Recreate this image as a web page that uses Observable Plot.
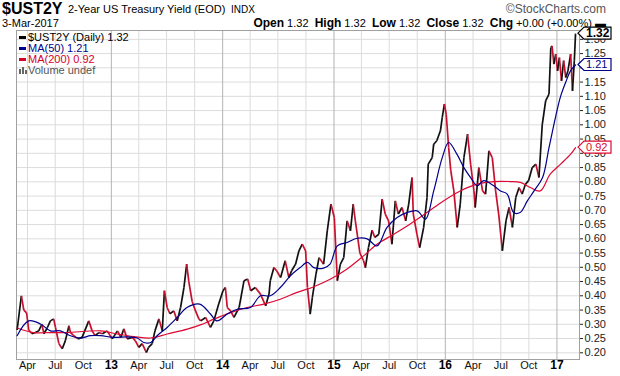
<!DOCTYPE html>
<html><head><meta charset="utf-8">
<script src="https://cdn.jsdelivr.net/npm/d3@7"></script>
<script src="https://cdn.jsdelivr.net/npm/@observablehq/plot@0.6"></script>
<style>
body{margin:0;background:#fff;}
#wrap{position:relative;width:620px;height:376px;font-family:"Liberation Sans",Arial,sans-serif;overflow:hidden;}
#wrap svg{position:absolute;left:0;top:0;}
.h{position:absolute;white-space:nowrap;color:#000;z-index:2;line-height:1;}
.lg{position:absolute;white-space:nowrap;z-index:2;font-size:11px;line-height:1;}
.dash{display:inline-block;width:7px;height:3px;vertical-align:middle;margin-right:2px;position:relative;top:-1px;}
</style></head><body>
<div id="wrap">
 <div class="h" style="left:2px;top:1px;font-size:16px;font-weight:bold;">$UST2Y</div>
 <div class="h" style="left:68px;top:4px;font-size:11px;">2-Year US Treasury Yield (EOD)</div>
 <div class="h" style="left:231px;top:5px;font-size:10px;">INDX</div>
 <div class="h" style="right:14px;top:3px;font-size:12px;color:#555;">&copy;StockCharts.com</div>
 <div class="h" style="left:2px;top:18px;font-size:11px;">3-Mar-2017</div>
 <div class="h" style="right:14px;top:17px;font-size:11px;"><b style="font-size:12px">Open</b> 1.32 &nbsp;<b style="font-size:12px">High</b> 1.32 &nbsp;<b style="font-size:12px">Low</b> 1.32 &nbsp;<b style="font-size:12px">Close</b> 1.32 &nbsp;<b style="font-size:12px">Chg</b> +0.00 (+0.00%) <b>&#9644;</b></div>
 <div class="lg" style="left:19px;top:32px;color:#000;"><span class="dash" style="background:#000"></span>$UST2Y (Daily) 1.32</div>
 <div class="lg" style="left:19px;top:43px;color:#00008b;"><span class="dash" style="background:#00008b"></span>MA(50) 1.21</div>
 <div class="lg" style="left:19px;top:54px;color:#d6002b;"><span class="dash" style="background:#d6002b"></span>MA(200) 0.92</div>
 <div class="lg" style="left:19px;top:65px;color:#555;"><svg width="8" height="8" style="position:relative;vertical-align:middle;top:-1px;margin-right:1px"><rect x="0" y="3" width="2" height="5" fill="#666"/><rect x="3" y="1" width="2" height="7" fill="#666"/><rect x="6" y="4" width="2" height="4" fill="#666"/></svg>Volume undef</div>
</div>
<script>
// ---- data ----
const priceDates = ["2012-02-27","2012-03-12","2012-03-20","2012-03-29","2012-04-05","2012-04-16","2012-04-27","2012-05-08","2012-05-18","2012-05-25","2012-06-05","2012-06-15","2012-06-26","2012-07-02","2012-07-13","2012-07-24","2012-08-03","2012-08-15","2012-08-20","2012-08-31","2012-09-14","2012-09-27","2012-10-19","2012-10-30","2012-11-09","2012-11-21","2012-12-03","2012-12-18",
"2013-01-04","2013-01-21","2013-02-01","2013-02-11","2013-02-22","2013-03-11","2013-03-21","2013-04-01","2013-04-12","2013-04-26","2013-05-03","2013-05-15","2013-05-24","2013-06-06","2013-06-17","2013-06-24","2013-07-03","2013-07-12","2013-07-25","2013-08-05","2013-08-16","2013-08-27","2013-09-05","2013-09-12","2013-09-23","2013-10-04","2013-10-15","2013-10-21","2013-11-06","2013-11-22","2013-12-03","2013-12-19",
"2014-01-02","2014-01-10","2014-01-16","2014-01-27","2014-02-07","2014-02-24","2014-03-12","2014-03-24","2014-04-03","2014-04-18","2014-05-05","2014-05-22","2014-06-02","2014-06-06","2014-06-18","2014-06-27","2014-07-10","2014-07-25","2014-08-06","2014-08-15","2014-08-28","2014-09-08","2014-09-19","2014-09-30","2014-10-06","2014-10-15","2014-10-22","2014-11-03","2014-11-13","2014-11-28","2014-12-10","2014-12-22",
"2015-01-02","2015-01-12","2015-01-22","2015-02-02","2015-02-13","2015-02-24","2015-03-05","2015-03-12","2015-03-27","2015-04-08","2015-04-14","2015-04-24","2015-05-06","2015-05-15","2015-05-28","2015-06-08","2015-06-18","2015-06-29","2015-07-10","2015-07-21","2015-07-31","2015-08-12","2015-08-24","2015-09-03","2015-09-14","2015-09-18","2015-09-30","2015-10-09","2015-10-22","2015-11-02","2015-11-06","2015-11-19","2015-11-24","2015-12-04","2015-12-16","2015-12-22","2015-12-29",
"2016-01-04","2016-01-12","2016-01-19","2016-01-29","2016-02-09","2016-02-19","2016-03-02","2016-03-14","2016-03-24","2016-04-04","2016-04-08","2016-04-20","2016-05-02","2016-05-12","2016-05-23","2016-06-03","2016-06-14","2016-06-24","2016-07-06","2016-07-18","2016-07-28","2016-08-08","2016-08-19","2016-08-30","2016-09-09","2016-09-20","2016-09-30","2016-10-12","2016-10-24","2016-11-03","2016-11-14","2016-11-25","2016-12-06","2016-12-12","2016-12-16","2016-12-22","2016-12-28",
"2017-01-03","2017-01-09","2017-01-16","2017-01-23","2017-01-30","2017-02-06","2017-02-15","2017-02-21","2017-02-27","2017-03-03"];
const priceValues = [0.28,0.40,0.35,0.34,0.28,0.267,0.271,0.277,0.30,0.267,0.288,0.312,0.319,0.288,0.232,0.214,0.242,0.295,0.271,0.26,0.249,0.254,0.312,0.277,0.26,0.271,0.267,0.277,
0.249,0.277,0.254,0.284,0.249,0.254,0.242,0.219,0.232,0.201,0.219,0.232,0.277,0.319,0.277,0.418,0.359,0.337,0.347,0.312,0.359,0.429,0.511,0.45,0.38,0.347,0.319,0.312,0.324,0.289,0.312,0.371,
0.418,0.429,0.359,0.347,0.324,0.359,0.453,0.459,0.418,0.429,0.406,0.365,0.406,0.453,0.499,0.488,0.464,0.523,0.464,0.488,0.511,0.558,0.581,0.558,0.429,0.336,0.394,0.476,0.534,0.511,0.628,0.722,
0.675,0.453,0.511,0.534,0.663,0.628,0.722,0.663,0.55,0.523,0.499,0.569,0.63,0.605,0.616,0.739,0.687,0.663,0.581,0.733,0.687,0.71,0.663,0.722,0.815,0.687,0.616,0.569,0.64,0.745,0.862,0.885,0.932,0.944,0.979,1.026,1.073,
1.037,0.92,0.839,0.768,0.64,0.722,0.885,0.967,0.862,0.768,0.71,0.85,0.768,0.757,0.909,0.885,0.768,0.687,0.558,0.663,0.71,0.64,0.745,0.78,0.757,0.792,0.804,0.85,0.862,0.815,1.002,1.084,1.108,1.271,1.277,1.213,1.248,
1.189,1.236,1.154,1.225,1.166,1.189,1.248,1.119,1.225,1.32];

const ma50Dates = ["2012-02-27","2012-04-05","2012-05-14","2012-06-15","2012-07-18","2012-08-20","2012-09-21","2012-10-25","2012-11-27","2013-01-09","2013-02-22","2013-03-27","2013-04-18","2013-05-10","2013-05-31","2013-07-03","2013-08-05","2013-09-06","2013-10-18","2013-11-22","2013-12-13","2014-01-16","2014-02-18","2014-04-02","2014-05-05","2014-06-06","2014-07-09","2014-08-11","2014-09-12","2014-10-06","2014-10-27","2014-11-28","2014-12-19","2015-01-12","2015-02-13","2015-03-18","2015-04-20","2015-05-22","2015-06-24","2015-07-27","2015-08-28","2015-10-01","2015-10-28","2015-11-24","2015-12-22","2016-01-12","2016-02-08","2016-03-02","2016-03-24","2016-04-15","2016-05-06","2016-06-08","2016-06-30","2016-07-22","2016-08-12","2016-09-02","2016-09-26","2016-10-18","2016-11-15","2016-12-06","2016-12-28","2017-01-13","2017-01-30","2017-02-15","2017-03-03"];
const ma50Values = [0.26,0.312,0.301,0.277,0.277,0.26,0.252,0.26,0.26,0.254,0.256,0.252,0.236,0.236,0.26,0.289,0.324,0.359,0.371,0.336,0.312,0.336,0.353,0.359,0.40,0.40,0.429,0.47,0.499,0.517,0.499,0.497,0.511,0.575,0.587,0.602,0.60,0.575,0.64,0.675,0.692,0.698,0.669,0.768,0.885,0.938,0.897,0.85,0.815,0.786,0.804,0.786,0.768,0.757,0.692,0.692,0.733,0.768,0.815,0.92,1.03,1.10,1.15,1.19,1.21];

const ma200Dates = ["2012-02-27","2012-04-20","2012-06-15","2012-08-09","2012-11-27","2013-01-20","2013-03-16","2013-05-10","2013-07-03","2013-09-07","2013-10-20","2013-12-03","2014-01-27","2014-03-22","2014-05-16","2014-07-09","2014-09-02","2014-10-27","2014-12-21","2015-02-13","2015-04-08","2015-05-22","2015-07-16","2015-09-08","2015-11-02","2015-12-26","2016-02-19","2016-04-14","2016-06-08","2016-08-01","2016-09-03","2016-10-06","2016-11-07","2016-12-10","2017-01-13","2017-02-15","2017-03-03"];
const ma200Values = [0.287,0.271,0.271,0.271,0.277,0.266,0.257,0.252,0.266,0.283,0.298,0.318,0.341,0.359,0.371,0.388,0.412,0.432,0.459,0.494,0.54,0.581,0.616,0.652,0.692,0.733,0.768,0.792,0.801,0.801,0.798,0.78,0.768,0.827,0.862,0.897,0.92];

const xTickDates = ["2012-04-01","2012-07-01","2012-10-01","2013-01-01","2013-04-01","2013-07-01","2013-10-01","2014-01-01","2014-04-01","2014-07-01","2014-10-01","2015-01-01","2015-04-01","2015-07-01","2015-10-01","2016-01-01","2016-04-01","2016-07-01","2016-10-01","2017-01-01"];
const xTickLabels = ["Apr","Jul","Oct","13","Apr","Jul","Oct","14","Apr","Jul","Oct","15","Apr","Jul","Oct","16","Apr","Jul","Oct","17"];
const yTicks = [0.20,0.25,0.30,0.35,0.40,0.45,0.50,0.55,0.60,0.65,0.70,0.75,0.80,0.85,0.90,0.95,1.00,1.05,1.10,1.15,1.20,1.25,1.30];

const lastValues = [{name:"price",value:1.32},{name:"ma50",value:1.21},{name:"ma200",value:0.92}];

// ---- build ----
const parse = d3.utcParse("%Y-%m-%d");
const price = priceDates.map((d,i)=>({date:parse(d),value:priceValues[i]}));
const segs = price.slice(1).map((p,i)=>({x1:price[i].date,y1:price[i].value,x2:p.date,y2:p.value,up:p.value>=price[i].value}));
const ma50 = ma50Dates.map((d,i)=>({date:parse(d),value:ma50Values[i]}));
const ma200 = ma200Dates.map((d,i)=>({date:parse(d),value:ma200Values[i]}));
const ticks = xTickDates.map((d,i)=>({date:parse(d),label:xTickLabels[i],year:/^\d+$/.test(xTickLabels[i])}));
const monthTicks = ticks.filter(t=>!t.year), yearTicks = ticks.filter(t=>t.year);

const colors = {price:"#000000", ma50:"#00008b", ma200:"#dc0a32", down:"#c8102e"};

const chart = Plot.plot({
  width:620, height:376,
  marginTop:30, marginBottom:17, marginLeft:16, marginRight:41,
  style:{fontFamily:"Liberation Sans, Arial, sans-serif", fontSize:"11px", background:"transparent", color:"#222", overflow:"visible"},
  x:{type:"utc", domain:[parse("2012-02-25"), parse("2017-03-16")], axis:null},
  y:{domain:[0.1765,1.331], axis:"right", ticks:yTicks, tickFormat:d=>d.toFixed(2), tickSize:3, tickPadding:2, label:null},
  marks:[
    Plot.ruleY(yTicks,{stroke:"#dcdcdc", strokeWidth:1}),
    Plot.ruleX(monthTicks,{x:"date", stroke:"#dcdcdc"}),
    Plot.ruleX(yearTicks,{x:"date", stroke:"#b4b4b4"}),
    Plot.frame({stroke:"#a0a0a0"}),
    Plot.text(monthTicks,{x:"date", text:"label", frameAnchor:"bottom", dy:9, fontSize:11, fill:"#111"}),
    Plot.text(yearTicks,{x:"date", text:"label", frameAnchor:"bottom", dy:9, fontSize:12, fontWeight:"bold", fill:"#000"}),
    Plot.link(segs,{x1:"x1", y1:"y1", x2:"x2", y2:"y2", stroke:d=>d.up?"#111111":colors.down, strokeWidth:1.7}),
    Plot.line(ma200,{x:"date", y:"value", stroke:colors.ma200, strokeWidth:1.2, curve:"catmull-rom"}),
    Plot.line(ma50,{x:"date", y:"value", stroke:colors.ma50, strokeWidth:1.2, curve:"catmull-rom"})
  ]
});
document.getElementById("wrap").prepend(chart);

// value boxes on the right axis
const sy = chart.scale("y");
const svg = d3.select(chart);
const xr = 620 - 41;
lastValues.forEach(d=>{
  const y = sy.apply(d.value);
  const c = colors[d.name];
  const g = svg.append("g");
  g.append("path")
    .attr("d", `M${xr-1},${y} L${xr+5},${y-6} L${xr+32},${y-6} L${xr+32},${y+6} L${xr+5},${y+6} Z`)
    .attr("fill","#fff").attr("stroke",c).attr("stroke-width",1.2);
  g.append("text").attr("x",xr+7).attr("y",y).attr("dy","0.36em")
    .attr("text-anchor","start")
    .attr("fill",c).attr("font-size", d.name==="price"?12:11)
    .attr("font-weight", d.name==="price"?"bold":"normal")
    .attr("font-family","Liberation Sans, Arial, sans-serif")
    .text(d.value.toFixed(2));
});
</script>
</body></html>
